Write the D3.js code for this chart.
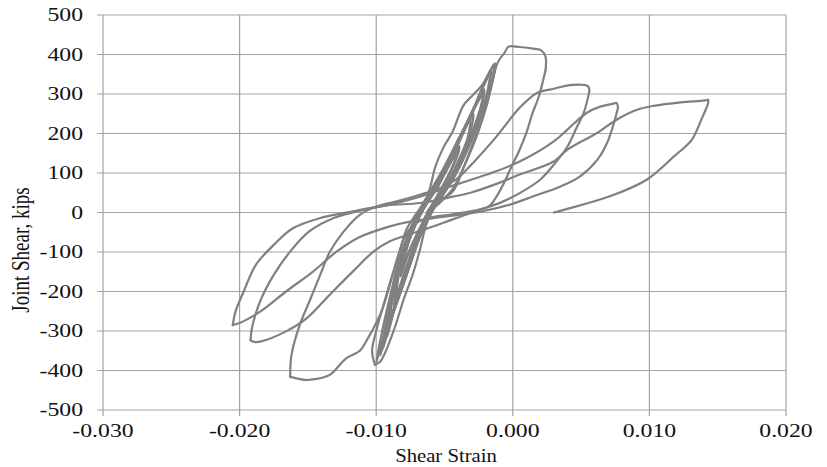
<!DOCTYPE html>
<html>
<head>
<meta charset="utf-8">
<script src="https://cdn.jsdelivr.net/npm/d3@7"></script>
<style>
    body { margin: 0; background: #fff; }
    svg { display: block; }
    text { font-family: "Liberation Serif", "Times New Roman", serif; fill: #111; }
</style>
</head>
<body>
<svg id="vis" width="827" height="467"></svg>
<script>

// axis ticks
var xTicks = [-0.03, -0.02, -0.01, 0, 0.01, 0.02];
var yTicks = [-500, -400, -300, -200, -100, 0, 100, 200, 300, 400, 500];

// small elastic cycles, [shear strain, joint shear kips]
var cycle1 = [[-0.0063,0],[-0.0050,70],[-0.0042,130],[-0.0039,162],[-0.0045,130],[-0.0054,70],[-0.0066,5],[-0.0074,-50],[-0.0079,-110],[-0.0081,-150],[-0.0078,-120],[-0.0072,-70],[-0.0064,-10]];
var cycle2 = [[-0.0064,-10],[-0.0055,45],[-0.0045,110],[-0.0039,168],[-0.0044,135],[-0.0053,80],[-0.0065,10],[-0.0074,-55],[-0.0080,-120],[-0.0082,-162],[-0.0078,-115],[-0.0071,-60],[-0.0062,0]];
var cycle3 = [[-0.0062,0],[-0.0050,60],[-0.0040,130],[-0.0033,190],[-0.0031,240],[-0.0036,205],[-0.0044,145],[-0.0053,85],[-0.0067,5],[-0.0077,-70],[-0.0083,-150],[-0.0086,-230],[-0.0083,-190],[-0.0077,-130],[-0.0070,-65],[-0.0061,0]];
var cycle4 = [[-0.0061,0],[-0.0048,70],[-0.0038,140],[-0.0031,205],[-0.0029,250],[-0.0035,210],[-0.0043,150],[-0.0052,90],[-0.0066,10],[-0.0077,-75],[-0.0084,-160],[-0.0087,-245],[-0.0083,-195],[-0.0077,-130],[-0.0069,-60],[-0.0060,0]];
var cycle5 = [[-0.0060,0],[-0.0047,75],[-0.0036,150],[-0.0028,220],[-0.0023,275],[-0.0022,300],[-0.0027,270],[-0.0035,215],[-0.0044,150],[-0.0053,85],[-0.0067,5],[-0.0078,-80],[-0.0085,-165],[-0.0089,-240],[-0.0091,-300],[-0.0087,-250],[-0.0080,-180],[-0.0073,-110],[-0.0066,-40],[-0.0059,5]];
var cycle6 = [[-0.0059,5],[-0.0046,80],[-0.0035,155],[-0.0027,225],[-0.0022,280],[-0.0021,312],[-0.0026,280],[-0.0034,220],[-0.0043,155],[-0.0053,88],[-0.0067,8],[-0.0079,-85],[-0.0086,-170],[-0.0090,-250],[-0.0092,-315],[-0.0088,-260],[-0.0081,-190],[-0.0074,-120],[-0.0066,-45],[-0.0058,10]];
var cycle7 = [[-0.0058,10],[-0.0044,85],[-0.0033,165],[-0.0025,240],[-0.0019,300],[-0.0017,350],[-0.0023,310],[-0.0030,250],[-0.0040,180],[-0.0050,110],[-0.0060,50],[-0.0069,0],[-0.0080,-90],[-0.0087,-180],[-0.0092,-270],[-0.0095,-345],[-0.0090,-280],[-0.0082,-200],[-0.0075,-130],[-0.0067,-50],[-0.0058,15]];
var cycle8 = [[-0.0058,15],[-0.0043,90],[-0.0031,175],[-0.0023,250],[-0.0018,310],[-0.0016,362],[-0.0022,320],[-0.0029,260],[-0.0040,185],[-0.0051,110],[-0.0061,45],[-0.0070,-5],[-0.0081,-100],[-0.0088,-190],[-0.0093,-280],[-0.0097,-362],[-0.0092,-300],[-0.0084,-220],[-0.0076,-140],[-0.0068,-60],[-0.0057,15]];
var cycle9 = [[-0.0057,15],[-0.0042,95],[-0.0030,185],[-0.0021,265],[-0.0016,320],[-0.0014,375],[-0.0020,330],[-0.0028,270],[-0.0039,190],[-0.0050,115],[-0.0062,45],[-0.0071,-10],[-0.0082,-105],[-0.0089,-200],[-0.0095,-290],[-0.0100,-380],[-0.0094,-310],[-0.0086,-230],[-0.0078,-150],[-0.0069,-70],[-0.0058,10]];
var cycle10 = [[-0.0058,10],[-0.0044,60],[-0.0036,115],[-0.0027,195],[-0.0019,275],[-0.0013,378],[-0.0022,325],[-0.0029,298],[-0.0036,272],[-0.0044,205],[-0.0051,163],[-0.0057,113],[-0.0060,70],[-0.0064,30],[-0.0071,-5],[-0.0078,-44],[-0.0083,-103],[-0.0090,-179],[-0.0095,-238],[-0.0100,-300],[-0.0103,-350],[-0.0101,-385]];

// large cycles
var loadP1 = [[-0.0101,-385],[-0.0097,-377],[-0.0087,-297],[-0.0080,-221],[-0.0073,-154],[-0.0068,-94],[-0.0063,-27],[-0.0056,24],[-0.0044,53],[-0.0036,113],[-0.0026,197],[-0.0019,273],[-0.0015,330],[-0.0011,380],[-0.0006,405],[-0.0003,420],[0.0005,419],[0.0015,415],[0.0021,410],[0.0024,394],[0.0024,361]];
var unloadP1 = [[0.0024,361],[0.0021,318],[0.0019,293],[0.0014,247],[0.0010,202],[0.0005,159],[-0.0001,116],[-0.0006,78],[-0.0012,40],[-0.0017,17],[-0.0028,5],[-0.0045,-5],[-0.0062,-14],[-0.0072,-30],[-0.0079,-60],[-0.0084,-110],[-0.0089,-170],[-0.0095,-240],[-0.0100,-280],[-0.0106,-318],[-0.0112,-350],[-0.0122,-369],[-0.0134,-411],[-0.0145,-422],[-0.0151,-424],[-0.0163,-416]];
var loadP2 = [[-0.0163,-416],[-0.0162,-360],[-0.0156,-285],[-0.0149,-226],[-0.0141,-158],[-0.0134,-100],[-0.0124,-49],[-0.0112,-6],[-0.0100,15],[-0.0083,30],[-0.0068,45],[-0.0053,62],[-0.0041,85],[-0.0029,126],[-0.0012,192],[0.0005,265],[0.0018,303],[0.0027,311],[0.0044,323],[0.0055,320],[0.0056,306]];
var unloadP2 = [[0.0056,306],[0.0052,253],[0.0047,217],[0.0040,167],[0.0031,125],[0.0020,83],[0.0005,49],[-0.0009,25],[-0.0024,7],[-0.0046,-20],[-0.0064,-42],[-0.0078,-58],[-0.0090,-73],[-0.0102,-99],[-0.0117,-149],[-0.0134,-208],[-0.0151,-268],[-0.0166,-301],[-0.0185,-327],[-0.0190,-327],[-0.0192,-323]];
var loadP3 = [[-0.0192,-323],[-0.0191,-293],[-0.0185,-225],[-0.0175,-158],[-0.0163,-99],[-0.0149,-48],[-0.0131,-14],[-0.0109,7],[-0.0090,20],[-0.0068,40],[-0.0044,68],[-0.0019,96],[0.0005,129],[0.0030,180],[0.0040,210],[0.0054,252],[0.0064,268],[0.0073,275],[0.0076,277],[0.0077,266]];
var unloadP3 = [[0.0077,266],[0.0074,226],[0.0069,176],[0.0062,134],[0.0049,91],[0.0035,66],[0.0015,41],[-0.0002,20],[-0.0024,2],[-0.0053,-12],[-0.0078,-25],[-0.0090,-35],[-0.0112,-62],[-0.0129,-99],[-0.0146,-149],[-0.0166,-200],[-0.0185,-251],[-0.0200,-280],[-0.0205,-285]];
var loadP4 = [[-0.0205,-285],[-0.0203,-251],[-0.0197,-200],[-0.0188,-132],[-0.0175,-82],[-0.0161,-40],[-0.0141,-14],[-0.0117,3],[-0.0092,18],[-0.0068,24],[-0.0044,40],[-0.0031,50],[-0.0010,75],[0.0005,96],[0.0030,129],[0.0040,159],[0.0062,202],[0.0076,235],[0.0091,260],[0.0103,270],[0.0123,279],[0.0139,283],[0.0143,285]];
var unloadP4 = [[0.0143,285],[0.0143,277],[0.0138,235],[0.0131,184],[0.0118,142],[0.0098,83],[0.0071,41],[0.0030,0]];

var allSegments = [cycle1, cycle2, cycle3, cycle4, cycle5, cycle6, cycle7, cycle8, cycle9, cycle10,
    loadP1, unloadP1, loadP2, unloadP2, loadP3, unloadP3, loadP4, unloadP4];

var w = 827;
var h = 467;
var margin = {left: 103, right: 41, top: 15, bottom: 57};

function fmt(spec) {
    var f = d3.format(spec);
    return function(d) { return f(d).replace("\u2212", "-"); };
}

function drawChart() {
    var svg = d3.select("#vis");

    var xScale = d3.scaleLinear()
        .domain([-0.03, 0.02])
        .range([margin.left, w - margin.right]);
    var yScale = d3.scaleLinear()
        .domain([-500, 500])
        .range([h - margin.bottom, margin.top]);

    var grid = svg.append("g").attr("class", "grid");

    grid.selectAll("line.h")
        .data(yTicks)
        .enter()
        .append("line")
        .attr("class", "h")
        .attr("x1", xScale(-0.03) - 6)
        .attr("x2", xScale(0.02))
        .attr("y1", function(d) { return yScale(d); })
        .attr("y2", function(d) { return yScale(d); })
        .attr("stroke", "#a3a3a3")
        .attr("stroke-width", 1.2);

    grid.selectAll("line.v")
        .data(xTicks)
        .enter()
        .append("line")
        .attr("class", "v")
        .attr("x1", function(d) { return xScale(d); })
        .attr("x2", function(d) { return xScale(d); })
        .attr("y1", yScale(500))
        .attr("y2", yScale(-500) + 6)
        .attr("stroke", "#a3a3a3")
        .attr("stroke-width", 1.2);

    // tick labels (the original type is stretched sideways)
    var fx = fmt(".3f");
    svg.append("g").selectAll("text")
        .data(xTicks)
        .enter()
        .append("text")
        .attr("transform", function(d) {
            return "translate(" + xScale(d) + "," + (yScale(-500) + 27) + ") scale(1.32,1)";
        })
        .attr("text-anchor", "middle")
        .style("font-size", "18px")
        .text(function(d) { return fx(d); });

    var fy = fmt("d");
    svg.append("g").selectAll("text")
        .data(yTicks)
        .enter()
        .append("text")
        .attr("transform", function(d) {
            return "translate(83," + (yScale(d) + 6.3) + ") scale(1.32,1)";
        })
        .attr("text-anchor", "end")
        .style("font-size", "18px")
        .text(function(d) { return fy(d); });

    // hysteresis curve
    var line = d3.line()
        .x(function(d) { return xScale(d[0]); })
        .y(function(d) { return yScale(d[1]); })
        .curve(d3.curveCatmullRom.alpha(0.5));

    svg.append("g").selectAll("path")
        .data(allSegments)
        .enter()
        .append("path")
        .attr("d", line)
        .attr("fill", "none")
        .attr("stroke", "#808080")
        .attr("stroke-width", 2.2)
        .attr("stroke-linejoin", "round")
        .attr("stroke-linecap", "round");

    // axis titles
    svg.append("text")
        .attr("transform", "translate(446,462) scale(1.15,1)")
        .attr("text-anchor", "middle")
        .style("font-size", "18px")
        .text("Shear Strain");

    svg.append("text")
        .attr("transform", "translate(29,250) scale(1.3,1) rotate(-90)")
        .attr("text-anchor", "middle")
        .style("font-size", "19px")
        .text("Joint Shear, kips");
}

window.onload = function() {
    drawChart();
};
</script>
</body>
</html>
